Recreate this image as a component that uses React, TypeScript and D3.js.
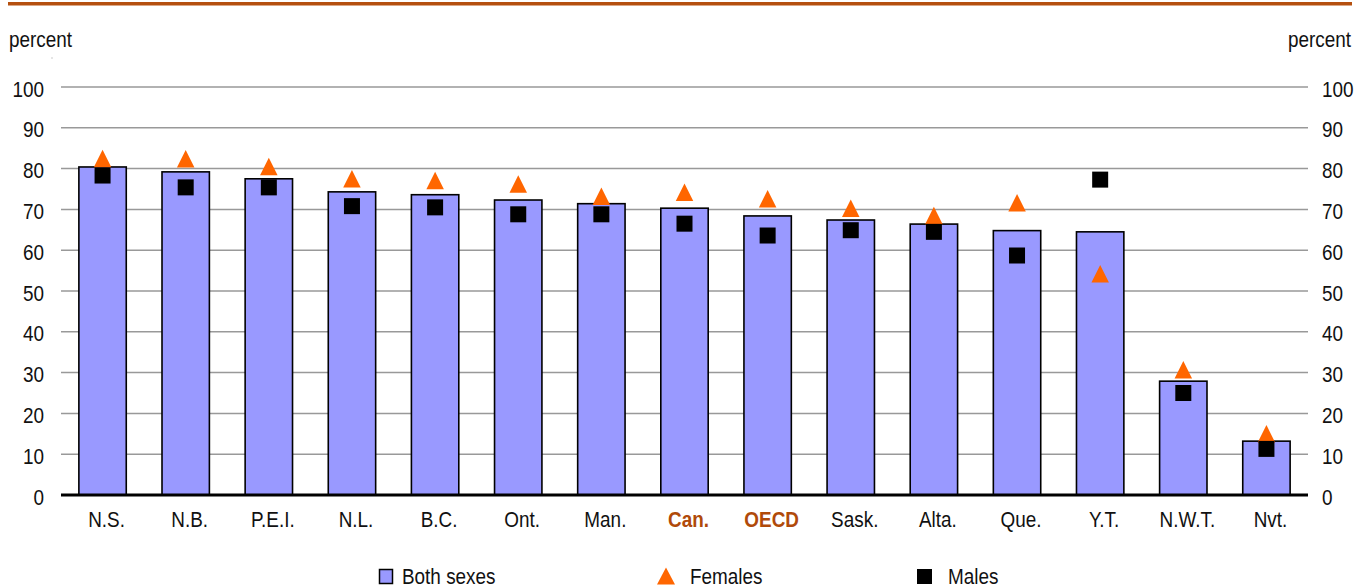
import React from "react";
import * as d3 from "d3";

const categories = ["N.S.", "N.B.", "P.E.I.", "N.L.", "B.C.", "Ont.", "Man.", "Can.", "OECD", "Sask.", "Alta.", "Que.", "Y.T.", "N.W.T.", "Nvt."];
const bothSexes = [80.4, 79.2, 77.5, 74.3, 73.6, 72.3, 71.4, 70.3, 68.4, 67.4, 66.4, 64.8, 64.5, 27.9, 13.2];
const females = [82.5, 82.4, 80.5, 77.5, 77.1, 76.2, 73.2, 74.2, 72.6, 70.3, 68.5, 71.6, 54.2, 30.7, 15.0];
const males = [78.3, 75.4, 75.4, 70.8, 70.5, 68.8, 68.8, 66.5, 63.6, 64.9, 64.5, 58.7, 77.3, 25.0, 11.3];
const highlighted = ["Can.", "OECD"];
const yTicks = [0, 10, 20, 30, 40, 50, 60, 70, 80, 90, 100];

const W = 1366;
const H = 588;
const FONT = "'Liberation Sans Narrow', 'Arial Narrow', 'Liberation Sans', Arial, sans-serif";
const BAR = "#9999ff";
const ORANGE = "#ff6600";
const BROWN = "#b04a0a";
const SX = 0.86;

function trianglePath(cx: number, cy: number, w: number, h: number) {
  const p = d3.path();
  p.moveTo(cx, cy - h / 2);
  p.lineTo(cx + w / 2, cy + h / 2);
  p.lineTo(cx - w / 2, cy + h / 2);
  p.closePath();
  return p.toString();
}

function T(props: { x: number; y: number; anchor?: string; fill?: string; bold?: boolean; children: React.ReactNode }) {
  const { x, y, anchor = "start", fill = "#111", bold = false, children } = props;
  return (
    <text
      transform={`translate(${x},${y}) scale(${SX},1)`}
      fontSize={22}
      textAnchor={anchor}
      fill={fill}
      fontWeight={bold ? "bold" : "normal"}
    >
      {children}
    </text>
  );
}

export default function App() {
  const x = d3.scaleBand<string>().domain(categories).range([61, 1308]).padding(0);
  const y = d3.scaleLinear().domain([0, 100]).range([495, 87]);
  const bw = x.bandwidth() * 0.57;
  const cx = (c: string) => (x(c) as number) + x.bandwidth() / 2;
  const sq = 16;

  return (
    <svg width={W} height={H} style={{ position: "absolute", left: 0, top: 0, background: "#fff" }} fontFamily={FONT}>
      <rect x={0} y={0} width={W} height={H} fill="#fff" />
      <line x1={8} x2={1352} y1={3.75} y2={3.75} stroke="#b5500f" strokeWidth={3.5} />

      <T x={9} y={47}>percent</T>
      <T x={1351} y={47} anchor="end">percent</T>
      <rect x={51.5} y={57.5} width={1} height={1} fill="#999" />

      {yTicks.map((t) => (
        <g key={t}>
          {t > 0 && <line x1={61} x2={1308} y1={y(t)} y2={y(t)} stroke="#999" strokeWidth={1.5} />}
          <T x={44} y={y(t) + 9.5} anchor="end">{t}</T>
          <T x={1322} y={y(t) + 9.5}>{t}</T>
        </g>
      ))}

      {categories.map((c, i) => (
        <rect key={c} x={cx(c) - bw / 2} y={y(bothSexes[i])} width={bw} height={y(0) - y(bothSexes[i])} fill={BAR} stroke="#000" strokeWidth={1.6} />
      ))}

      <line x1={61} x2={1308} y1={y(0)} y2={y(0)} stroke="#000" strokeWidth={3} />

      {categories.map((c, i) => (
        <path key={"f" + c} d={trianglePath(cx(c), y(females[i]), 17.5, 17.5)} fill={ORANGE} />
      ))}
      {categories.map((c, i) => (
        <rect key={"m" + c} x={cx(c) - sq / 2} y={y(males[i]) - sq / 2} width={sq} height={sq} fill="#000" />
      ))}

      {categories.map((c) => {
        const hi = highlighted.includes(c);
        return (
          <T key={"l" + c} x={cx(c) + 4} y={526.5} anchor="middle" fill={hi ? BROWN : "#111"} bold={hi}>
            {c}
          </T>
        );
      })}

      <g>
        <rect x={379.5} y={569.5} width={13} height={14} fill={BAR} stroke="#000" strokeWidth={1.5} />
        <T x={402} y={584}>Both sexes</T>
        <path d={trianglePath(666, 576, 18, 17)} fill={ORANGE} />
        <T x={690} y={584}>Females</T>
        <rect x={917} y={569} width={15} height={15} fill="#000" />
        <T x={948} y={584}>Males</T>
      </g>
    </svg>
  );
}
